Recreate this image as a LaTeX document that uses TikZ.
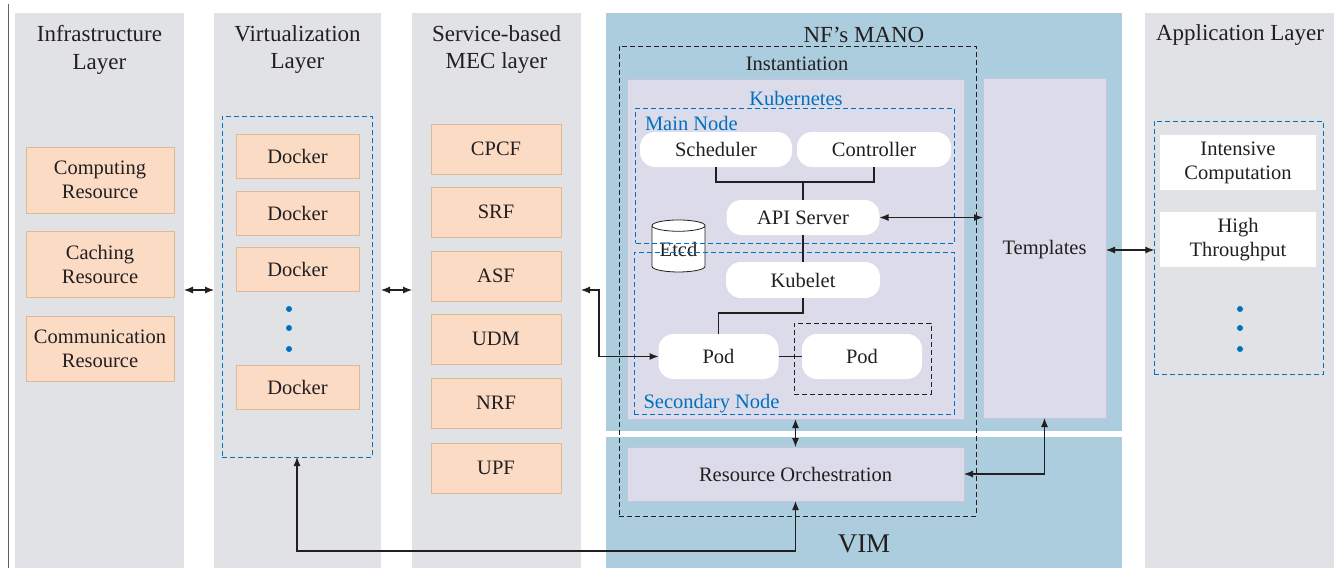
\documentclass[tikz,border=0pt]{standalone}
\usepackage{fontspec}
\setmainfont{Liberation Serif}
\newfontfamily\diagfont{Liberation Serif}
\usetikzlibrary{arrows.meta,shapes.geometric}

\definecolor{layergray}{RGB}{225,226,229}
\definecolor{manoblue}{RGB}{172,205,221}
\definecolor{kubelav}{RGB}{220,219,233}
\definecolor{lavline}{RGB}{200,196,221}
\definecolor{peach}{RGB}{252,219,196}
\definecolor{peachline}{RGB}{222,185,150}
\definecolor{dashblue}{RGB}{0,112,192}
\definecolor{inkgray}{RGB}{35,31,32}

\tikzset{
  wh/.style 2 args={minimum width=#1pt, minimum height=#2pt},
  layer/.style={fill=layergray},
  resbox/.style={fill=peach, draw=peachline, line width=1pt, align=center},
  pill/.style={fill=white, rounded corners=15pt},
  lavbox/.style={fill=kubelav, draw=lavline, line width=0.8pt},
  bluedash/.style={draw=dashblue, dash pattern=on 5pt off 3pt, line width=1pt},
  blackdash/.style={draw=inkgray, dash pattern=on 5pt off 3pt, line width=1pt},
  title/.style={font=\diagfont\fontsize{23}{28}\selectfont, align=center},
  bluetxt/.style={text=dashblue},
  dbl/.style={arrows={Latex[length=9pt,width=7pt]-Latex[length=9pt,width=7pt]}, line width=1.1pt, draw=inkgray},
  link/.style={line width=1.1pt, draw=inkgray},
  blob/.style={circle, fill=dashblue, minimum size=6pt},
}

\begin{document}
\begin{tikzpicture}[x=1pt,y=-1pt,every node/.style={inner sep=0pt,outer sep=0pt,font=\diagfont\fontsize{20.5}{24}\selectfont,text=inkgray}]
	\useasboundingbox (0,0) rectangle (1343,568);

	% layers
	\node[layer,wh={169}{555}] (infra) at (99.5,290.5) {};
	\node[layer,wh={167}{555}] (virt) at (297.5,290.5) {};
	\node[layer,wh={169}{555}] (mec) at (496.5,290.5) {};
	\node[layer,wh={189}{555}] (app) at (1239.5,290.5) {};
	\node[fill=manoblue,wh={516}{418}] (mano) at (864,222) {};
	\node[fill=manoblue,wh={516}{131}] (vim) at (864,502.5) {};
	\draw[inkgray!70, line width=0.8pt] (8,4) -- (8,568);

	% titles
	\node[title] (infratxt) at (99.5,49.5) {Infrastructure\\Layer};
	\node[title] (virttxt) at (297.5,49.5) {Virtualization\\Layer};
	\node[title] (mectxt) at (496.5,49.5) {Service-based\\MEC layer};
	\node[title] (manotxt) at (864,35) {NF’s MANO};
	\node[title] (apptxt) at (1240,35) {Application Layer};
	\node[font=\diagfont\fontsize{27}{30}\selectfont] (vimtxt) at (864,544) {VIM};

	% infrastructure resources
	\node[resbox,wh={148}{66}] (comp) at (100,180) {Computing\\Resource};
	\node[resbox,wh={148}{66}] (cach) at (100,264) {Caching\\Resource};
	\node[resbox,wh={148}{65}] (comm) at (100,348.5) {Communication\\Resource};

	% dockers
	\foreach \y/\n in {156/dock1,213/dock2,269/dock3,387/dock4}
		\node[resbox,wh={123}{44}] (\n) at (297.5,\y) {Docker};
	\node[bluedash,wh={150}{341}] (virtbox) at (297,286.5) {};
	\foreach \y in {309,328,349}
		\node[blob] (vdot\y) at (289,\y) {};

	% MEC functions
	\foreach \y/\t in {149/CPCF,212/SRF,276/ASF,339/UDM,403/NRF,468/UPF}
		\node[resbox,wh={130}{50}] (\t) at (496,\y) {\t};

	% MANO
	\node[lavbox,wh={337}{340}] (kube) at (795.5,249) {};
	\node[lavbox,wh={123}{340}] (tmpl) at (1044.5,248) {};
	\node (tmpltxt) at (1044.5,250) {Templates};
	\node[lavbox,wh={337}{54}] (ro) at (795.5,474) {Resource Orchestration};
	\node[blackdash,wh={357}{470}] (inst) at (797.5,281) {};
	\node (insttxt) at (797,64) {Instantiation};
	\node[bluetxt] (kubetxt) at (796,98) {Kubernetes};
	\node[cylinder,shape border rotate=90,aspect=0.3,draw=inkgray,fill=white,line width=0.8pt,minimum width=53pt,minimum height=52pt] (etcd) at (678.5,249) {Etcd};
	\node[bluedash,wh={318.5}{135}] (mainnode) at (795,175.5) {};
	\node[bluetxt,anchor=west] (maintxt) at (645,123) {Main Node};
	\node[pill,wh={152}{35}] (sched) at (716,149.5) {Scheduler};
	\node[pill,wh={154}{35}] (ctrl) at (874,149.5) {Controller};
	\node[pill,wh={153}{35}] (api) at (803,217.5) {API Server};
	\node[bluedash,wh={320}{162}] (secnode) at (794,333) {};
	\node[bluetxt,anchor=west] (sectxt) at (643.5,404) {Secondary Node};
	\node[pill,wh={154}{36}] (kubelet) at (803,280) {Kubelet};
	\node[blackdash,wh={137}{71}] (podbox) at (862.5,358.5) {};
	\node[pill,wh={120}{45}] (pod1) at (718.5,356.5) {Pod};
	\node[pill,wh={120}{45}] (pod2) at (862,356.5) {Pod};

	% applications
	\node[bluedash,wh={169.5}{253}] (appbox) at (1239,247.5) {};
	\node[fill=white,wh={155.5}{55},align=center] (intens) at (1238,162.5) {Intensive\\Computation};
	\node[fill=white,wh={155.5}{55},align=center] (high) at (1238,239.5) {High\\Throughput};
	\foreach \y in {309,328,349}
		\node[blob] (adot\y) at (1240,\y) {};

	% connectors
	\coordinate (lvl) at (0,290);
	\coordinate (bend) at (599,290);
	\draw[dbl] (infra.east |- lvl) -- (virt.west |- lvl);
	\draw[dbl] (virt.east |- lvl) -- (mec.west |- lvl);
	\draw[dbl] (mec.east |- lvl) -- (bend) |- (pod1.west);
	\draw[dbl] (api.east) -- (api.east -| tmpl.west);
	\draw[dbl] (tmpl.east |- tmpltxt) -- (tmpltxt -| appbox.west);
	\draw[dbl] (kube.south) -- (ro.north);
	\draw[dbl] (ro.east) -| (tmpl.south);
	\draw[dbl] (virtbox.south) -- ++(0,94) -| (ro.south);
	\draw[link] (sched.south) -- ++(0,15) -| (ctrl.south);
	\draw[link] (api.north) -- ++(0,-18);
	\draw[link] (api.south) -- (kubelet.north);
	\draw[link] (kubelet.south) -- ++(0,15) -| (pod1.north);
	\draw[link] (pod1.east) -- (pod2.west);

\end{tikzpicture}
\end{document}
